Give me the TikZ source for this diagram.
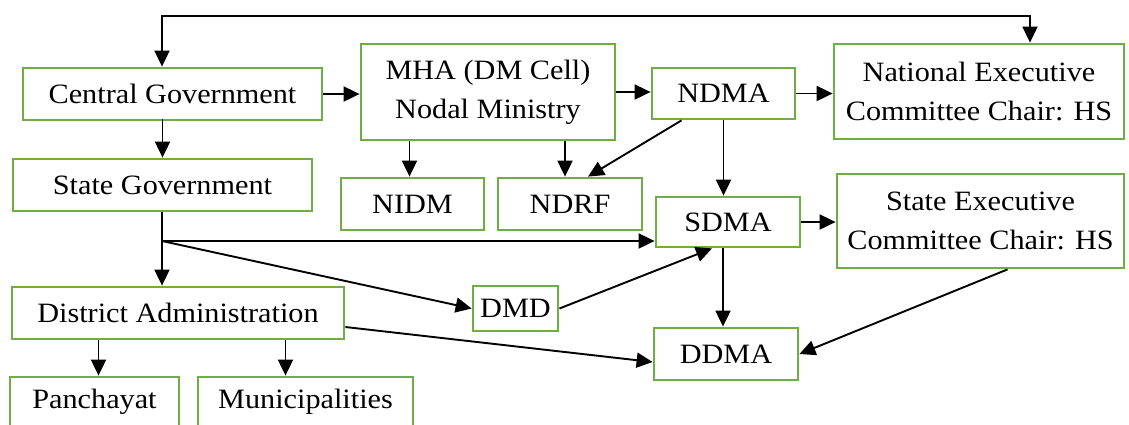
\documentclass[tikz,border=0pt]{standalone}
\usepackage{fontspec}
\setmainfont{Liberation Serif}[FakeStretch=1.08]
\usetikzlibrary{arrows.meta}
\definecolor{boxgreen}{RGB}{112,173,71}
\tikzset{
  gbox/.style={draw=boxgreen, line width=2.8pt, fill=white, inner sep=0pt, align=center,
    font=\fontsize{28}{39}\selectfont},
  arr/.style={line width=1.9pt, -{Triangle[length=16pt,width=15pt]}},
  arrboth/.style={line width=1.9pt, {Triangle[length=16pt,width=15pt]}-{Triangle[length=16pt,width=15pt]}},
  plain/.style={line width=1.9pt}
}
\begin{document}
\begin{tikzpicture}[x=1pt,y={(0,-1pt)}]
\useasboundingbox (0,0) rectangle (1129,424);
\clip (0,0) rectangle (1129,424);
% nodes
\node[gbox, minimum width=299pt, minimum height=52pt] (central) at (172.5,94) {Central Government};
\node[gbox, minimum width=299pt, minimum height=52pt] (state) at (162.5,185) {State Government};
\node[gbox, minimum width=254pt, minimum height=96pt] (mha) at (488,92) {MHA (DM Cell)\\Nodal Ministry};
\node[gbox, minimum width=143pt, minimum height=51pt] (ndma) at (723.5,93.5) {NDMA};
\node[gbox, minimum width=290pt, minimum height=95pt] (nec) at (979,91.5) {National Executive\\Committee Chair: HS};
\node[gbox, minimum width=143pt, minimum height=52pt] (nidm) at (412.5,204) {NIDM};
\node[gbox, minimum width=144pt, minimum height=52pt] (ndrf) at (570,204) {NDRF};
\node[gbox, minimum width=144pt, minimum height=50pt] (sdma) at (728,222) {SDMA};
\node[gbox, minimum width=287pt, minimum height=94pt] (sec) at (980.5,221) {State Executive\\Committee Chair: HS};
\node[gbox, minimum width=85pt, minimum height=45pt] (dmd) at (515.5,308.5) {DMD};
\node[gbox, minimum width=332pt, minimum height=52pt] (district) at (178,313) {District Administration};
\node[gbox, minimum width=144pt, minimum height=52pt] (ddma) at (726,354) {DDMA};
\node[gbox, minimum width=169pt, minimum height=50pt] (panch) at (94.5,402) {Panchayat};
\node[gbox, minimum width=215pt, minimum height=50pt] (muni) at (305.5,402) {Municipalities};
% connectors
\coordinate (tl) at (162,16);
\coordinate (tr) at (1030,16);
\draw[arrboth] (tl |- central.north) -- (tl) -- (tr) -- (tr |- nec.north);
\draw[arr] (central.east) -- (central.east -| mha.west);
\draw[arr] ([yshift=2pt]central.south -| state.north) -- (state.north);
\draw[arr] (mha.east) -- (mha.east -| ndma.west);
\draw[arr] (ndma.east) -- (ndma.east -| nec.west);
\draw[arr] ([xshift=-3pt]nidm.north |- mha.south) -- ([xshift=-3pt]nidm.north);
\draw[arr] ([xshift=-5pt]ndrf.north |- mha.south) -- ([xshift=-5pt]ndrf.north);
\draw[arr] ([xshift=-42pt]ndma.south) -- ([xshift=18pt]ndrf.north);
\draw[arr] (ndma.south) -- (ndma.south |- sdma.north);
\draw[arr] (sdma.east) -- (sdma.east -| sec.west);
\coordinate (j) at (162,241);
\draw[plain] (state.south -| j) -- (j);
\draw[arr] (j) -- (j -| sdma.west);
\draw[arr] (j) -- (district.north -| j);
\draw[arr] (j) -- (dmd.west);
\draw[arr] (dmd.east) -- ([xshift=-16pt]sdma.south);
\draw[arr] ([xshift=-5pt]sdma.south) -- ([xshift=-5pt]sdma.south |- ddma.north);
\draw[arr] ([xshift=27pt]sec.south) -- (ddma.east);
\draw[arr] ([yshift=-14pt]district.east) -- ([yshift=-8pt]ddma.west);
\draw[arr] ([xshift=4pt]panch.north |- district.south) -- ([xshift=4pt]panch.north);
\draw[arr] ([xshift=-20pt]muni.north |- district.south) -- ([xshift=-20pt]muni.north);
\end{tikzpicture}
\end{document}
